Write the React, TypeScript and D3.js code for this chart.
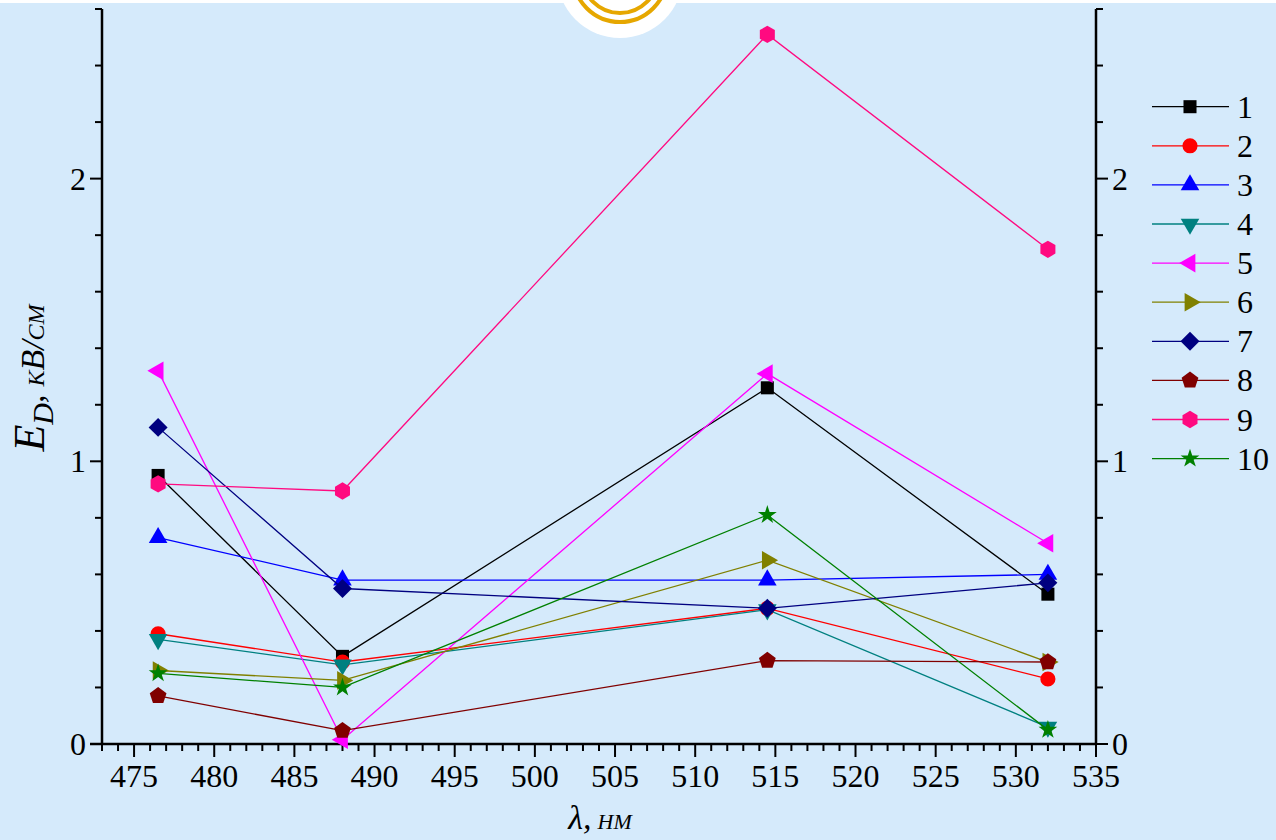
import React from 'react';
import * as d3 from 'd3';

// wavelengths, nm
const wavelengths = [476.5, 488, 514.5, 532];

const seriesNames = ['1', '2', '3', '4', '5', '6', '7', '8', '9', '10'];
const seriesColors = ['#000000', '#ff0000', '#0000ff', '#008080', '#ff00ff', '#808000', '#000080', '#800000', '#ff0a80', '#008000'];
const seriesShapes = ['square', 'circle', 'triUp', 'triDown', 'triLeft', 'triRight', 'diamond', 'pentagon', 'hexagon', 'star'];

// E_D, kV/cm
const s1 = [0.95, 0.31, 1.26, 0.53];
const s2 = [0.39, 0.29, 0.48, 0.23];
const s3 = [0.73, 0.58, 0.58, 0.6];
const s4 = [0.37, 0.28, 0.475, 0.06];
const s5 = [1.32, 0.015, 1.31, 0.71];
const s6 = [0.26, 0.225, 0.65, 0.29];
const s7 = [1.12, 0.55, 0.48, 0.57];
const s8 = [0.17, 0.047, 0.295, 0.29];
const s9 = [0.92, 0.895, 2.51, 1.75];
const s10 = [0.25, 0.2, 0.81, 0.05];
const seriesValues = [s1, s2, s3, s4, s5, s6, s7, s8, s9, s10];

const xMajorTicks = [475, 480, 485, 490, 495, 500, 505, 510, 515, 520, 525, 530, 535];
const yMajorTicks = [0, 1, 2];

const W = 1276;
const H = 840;
const left = 102;
const right = 1096;
const top = 9;
const bottom = 744;

const serif = { fontFamily: "'Liberation Serif', 'DejaVu Serif', serif" };

const polygon = (n: number) => ({
  draw(ctx: any, size: number) {
    const r = Math.sqrt(size / ((n / 2) * Math.sin((2 * Math.PI) / n)));
    for (let i = 0; i < n; i++) {
      const a = -Math.PI / 2 + (i * 2 * Math.PI) / n;
      if (i === 0) ctx.moveTo(r * Math.cos(a), r * Math.sin(a));
      else ctx.lineTo(r * Math.cos(a), r * Math.sin(a));
    }
    ctx.closePath();
  },
});

const shapeDefs: Record<string, { type: any; size: number; rotate: number }> = {
  square: { type: d3.symbolSquare, size: 170, rotate: 0 },
  circle: { type: d3.symbolCircle, size: 180, rotate: 0 },
  triUp: { type: d3.symbolTriangle, size: 150, rotate: 0 },
  triDown: { type: d3.symbolTriangle, size: 150, rotate: 180 },
  triLeft: { type: d3.symbolTriangle, size: 150, rotate: -90 },
  triRight: { type: d3.symbolTriangle, size: 150, rotate: 90 },
  diamond: { type: d3.symbolSquare, size: 180, rotate: 45 },
  pentagon: { type: polygon(5), size: 185, rotate: 0 },
  hexagon: { type: polygon(6), size: 195, rotate: 0 },
  star: { type: d3.symbolStar, size: 110, rotate: 0 },
};

const Marker: React.FC<{ shape: string; x: number; y: number; color: string }> = ({ shape, x, y, color }) => {
  const def = shapeDefs[shape];
  const d = d3.symbol().type(def.type).size(def.size)() || '';
  return <path d={d} fill={color} transform={`translate(${x},${y}) rotate(${def.rotate})`} />;
};

const App: React.FC = () => {
  const x = d3.scaleLinear().domain([473, 535]).range([left, right]);
  const y = d3.scaleLinear().domain([0, 2.6]).range([bottom, top]);

  const xMinor = d3.range(473, 536, 1);
  const yMinor = d3.range(0, 27, 2).map(v => v / 10);

  const line = d3.line<number>()
    .x((_, i) => x(wavelengths[i]))
    .y(d => y(d));

  const legendY0 = 106.7;
  const legendStep = 39.1;

  return (
    <svg width={W} height={H} style={{ position: 'fixed', left: 0, top: 0, display: 'block' }}>
      <rect x={0} y={0} width={W} height={H} fill="#ffffff" />
      <rect x={0} y={3} width={W} height={H - 3} fill="#d5eafb" />

      {/* logo fragment at the top */}
      <circle cx={620} cy={-25} r={63} fill="#ffffff" />
      <circle cx={620} cy={-25} r={47} fill="none" stroke="#e6a700" strokeWidth={4} />
      <circle cx={620} cy={-25} r={38} fill="none" stroke="#e6a700" strokeWidth={4} />

      {/* axes */}
      <g stroke="#000" strokeWidth={2}>
        <line x1={left - 12} x2={right} y1={bottom} y2={bottom} strokeWidth={2.5} />
        <line x1={left} x2={left} y1={top} y2={bottom} strokeWidth={2.5} />
        <line x1={right} x2={right} y1={top} y2={bottom} strokeWidth={2.5} />
        {xMinor.map(v => (
          <line key={'xm' + v} x1={x(v)} x2={x(v)} y1={bottom} y2={bottom + (v % 5 === 0 ? 13 : 7)} />
        ))}
        {yMinor.map(v => {
          const major = Math.abs(v - Math.round(v)) < 1e-6;
          const len = major ? 12 : 7;
          return (
            <g key={'ym' + v}>
              <line x1={left - len} x2={left} y1={y(v)} y2={y(v)} />
              <line x1={right} x2={right + len} y1={y(v)} y2={y(v)} />
            </g>
          );
        })}
      </g>

      {/* tick labels */}
      <g fontSize={32} fill="#000">
        {xMajorTicks.map(v => (
          <text key={'xl' + v} x={x(v)} y={787} textAnchor="middle" style={serif}>{v}</text>
        ))}
        {yMajorTicks.map(v => (
          <g key={'yl' + v}>
            <text x={86} y={y(v) + 11} textAnchor="end" style={serif}>{v}</text>
            <text x={1112} y={y(v) + 11} textAnchor="start" style={serif}>{v}</text>
          </g>
        ))}
      </g>

      {/* axis titles */}
      <text x={600} y={829} textAnchor="middle" fontStyle="italic" fontSize={34} style={serif}>
        λ,<tspan fontSize={31} dx={6} style={{ fontVariant: 'small-caps' }}>нм</tspan>
      </text>
      <text transform="translate(44,378) rotate(-90)" textAnchor="middle" fontStyle="italic" fontSize={44} style={serif}>
        E<tspan fontSize={30} dy={9}>D</tspan>
        <tspan dy={-9} fontSize={34}>,</tspan>
        <tspan fontSize={34} dx={8} style={{ fontVariant: 'small-caps' }}>кВ/см</tspan>
      </text>

      {/* series */}
      {seriesValues.map((vals, si) => (
        <g key={'s' + si}>
          <path d={line(vals) || ''} fill="none" stroke={seriesColors[si]} strokeWidth={1.3} />
          {vals.map((v, i) => (
            <Marker key={i} shape={seriesShapes[si]} x={x(wavelengths[i])} y={y(v)} color={seriesColors[si]} />
          ))}
        </g>
      ))}

      {/* legend */}
      {seriesNames.map((name, i) => {
        const ly = legendY0 + i * legendStep;
        return (
          <g key={'lg' + name}>
            <line x1={1152} x2={1229} y1={ly} y2={ly} stroke={seriesColors[i]} strokeWidth={1.3} />
            <Marker shape={seriesShapes[i]} x={1190} y={ly} color={seriesColors[i]} />
            <text x={1237} y={ly + 11} fontSize={32} style={serif}>{name}</text>
          </g>
        );
      })}
    </svg>
  );
};

export default App;
